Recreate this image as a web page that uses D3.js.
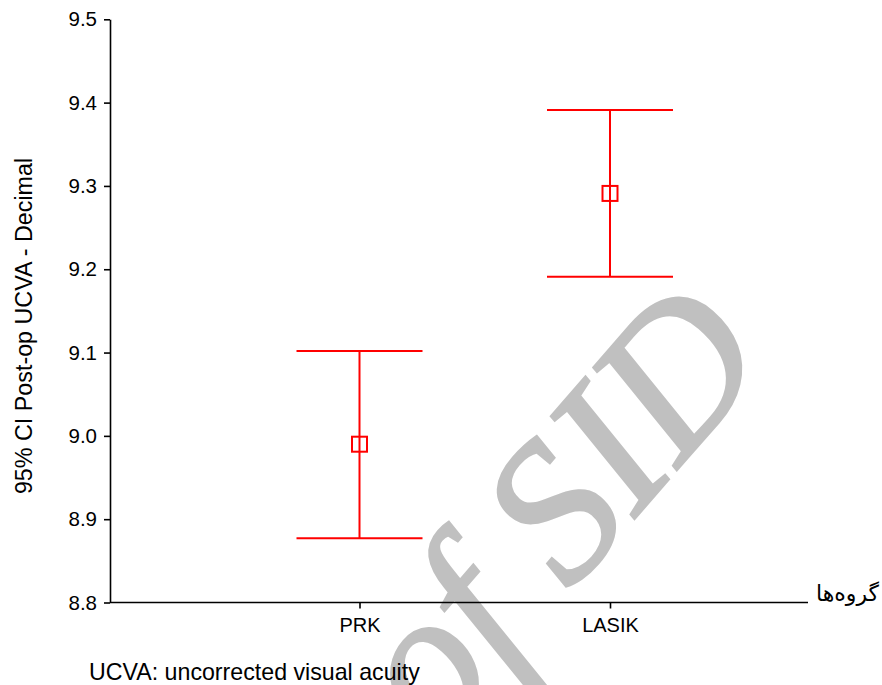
<!DOCTYPE html>
<html>
<head>
<meta charset="utf-8">
<script src="https://cdn.jsdelivr.net/npm/d3@7/dist/d3.min.js"></script>
<style>
  html, body { margin: 0; padding: 0; background: #fff; }
  svg { display: block; }
</style>
</head>
<body>
<svg id="chart" width="882" height="685"></svg>
<script>
// ---- data ----
const categories = ["PRK", "LASIK"];
const means = [8.990, 9.291];
const lowerCI = [8.877, 9.191];
const upperCI = [9.102, 9.391];
const yTicks = [8.8, 8.9, 9.0, 9.1, 9.2, 9.3, 9.4, 9.5];
const yLabel = "95% CI Post-op UCVA - Decimal";
const xLabel = "گروه‌ها";
const footnote = "UCVA: uncorrected visual acuity";
const watermark = "of SID";

// ---- layout ----
const svg = d3.select("#chart");
const axisX = 110, axisBottom = 602.5, axisTop = 19.3, axisRight = 808;

const y = d3.scaleLinear().domain([8.8, 9.5]).range([axisBottom, axisTop]);
const x = d3.scalePoint().domain(categories).range([359.5, 610]);

// watermark (behind everything), clipped to the page
svg.append("clipPath").attr("id", "page")
  .append("rect").attr("width", 882).attr("height", 685);
svg.append("g").attr("clip-path", "url(#page)")
  .append("g")
  .attr("transform", "translate(772,360) rotate(-49)")
  .append("text")
  .attr("text-anchor", "end")
  .attr("font-family", "'Liberation Serif', 'DejaVu Serif', serif")
  .attr("font-style", "italic")
  .attr("font-size", 198)
  .attr("fill", "#c0c0c0")
  .attr("stroke", "#c0c0c0")
  .attr("stroke-width", 3)
  .text(watermark);

// y axis
const yAxis = d3.axisLeft(y).tickValues(yTicks).tickFormat(d3.format(".1f"))
  .tickSize(6).tickSizeOuter(0).tickPadding(7);
const gy = svg.append("g").attr("transform", `translate(${axisX},0)`).call(yAxis);
gy.select(".domain").attr("stroke", "#000").attr("stroke-width", 1.6);
gy.selectAll(".tick line").attr("stroke", "#000").attr("stroke-width", 1.6);
gy.selectAll(".tick text")
  .attr("font-family", "'Liberation Sans', Arial, sans-serif")
  .attr("font-size", 20.5).attr("fill", "#000");

// x axis
const xAxis = d3.axisBottom(x).tickSize(6).tickSizeOuter(0).tickPadding(9);
const gx = svg.append("g").attr("transform", `translate(0,${axisBottom})`).call(xAxis);
gx.select(".domain").remove();
gx.append("line").attr("x1", axisX).attr("x2", axisRight).attr("y1", 0).attr("y2", 0)
  .attr("stroke", "#000").attr("stroke-width", 1.6);
gx.selectAll(".tick line").attr("stroke", "#000").attr("stroke-width", 1.6);
gx.selectAll(".tick text")
  .attr("font-family", "'Liberation Sans', Arial, sans-serif")
  .attr("font-size", 20).attr("fill", "#000");

// x axis title (Persian)
svg.append("text")
  .attr("x", 879).attr("y", 601)
  .attr("text-anchor", "end")
  .attr("font-family", "'DejaVu Sans', sans-serif")
  .attr("font-size", 22)
  .attr("fill", "#000")
  .text(xLabel);

// y axis title
svg.append("text")
  .attr("transform", "translate(32,326) rotate(-90)")
  .attr("text-anchor", "middle")
  .attr("font-family", "'Liberation Sans', Arial, sans-serif")
  .attr("font-size", 23.3)
  .attr("fill", "#000")
  .text(yLabel);

// footnote
svg.append("text")
  .attr("x", 89).attr("y", 679.5)
  .attr("font-family", "'Liberation Sans', Arial, sans-serif")
  .attr("font-size", 23.2)
  .attr("fill", "#000")
  .text(footnote);

// error bars
const capHalf = 63, box = 15;
const red = "#ff0000";
const g = svg.append("g");
categories.forEach((c, i) => {
  const cx = x(c);
  g.append("line").attr("x1", cx).attr("x2", cx)
    .attr("y1", y(upperCI[i])).attr("y2", y(lowerCI[i]))
    .attr("stroke", red).attr("stroke-width", 2);
  [upperCI[i], lowerCI[i]].forEach(v => {
    g.append("line").attr("x1", cx - capHalf).attr("x2", cx + capHalf)
      .attr("y1", y(v)).attr("y2", y(v))
      .attr("stroke", red).attr("stroke-width", 2);
  });
  g.append("rect")
    .attr("x", cx - box / 2).attr("y", y(means[i]) - box / 2)
    .attr("width", box).attr("height", box)
    .attr("fill", "none").attr("stroke", red).attr("stroke-width", 2);
});
</script>
</body>
</html>
